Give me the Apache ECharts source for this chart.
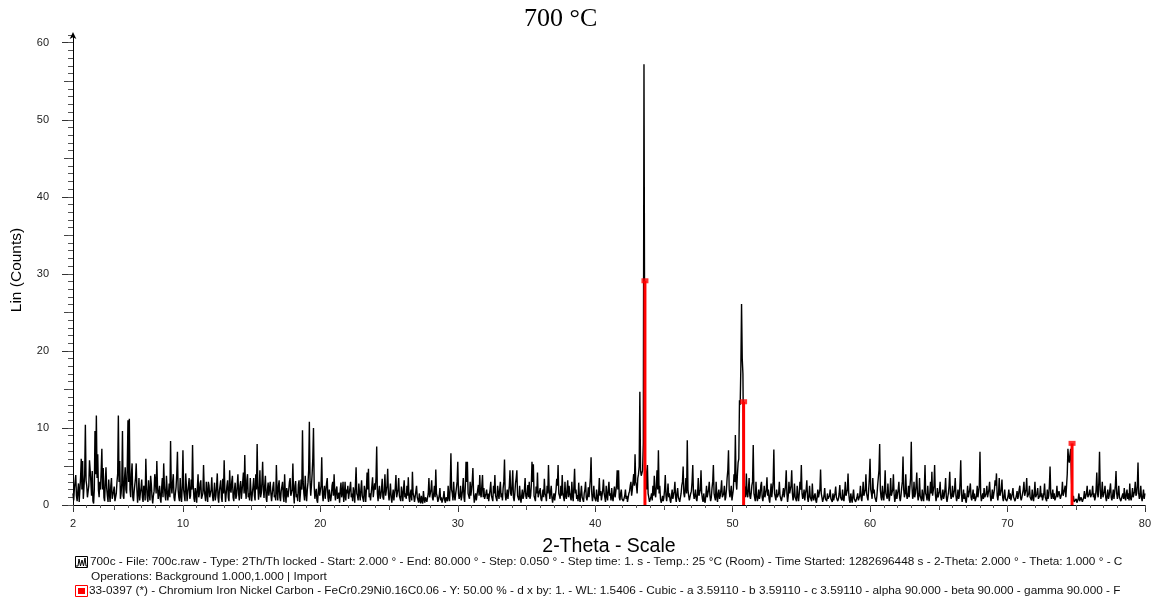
<!DOCTYPE html>
<html>
<head>
<meta charset="utf-8">
<title>700 °C</title>
<script src="https://cdn.jsdelivr.net/npm/echarts@6/dist/echarts.min.js"></script>
<style>
  html, body { margin: 0; padding: 0; background: #fff; }
  #chart { width: 1154px; height: 602px; }
</style>
</head>
<body>
<div id="chart"></div>
<script>
// scan: 2-Theta from 2 to 80, step 0.05 (one row = one degree)
const thetaStart = 2;
const thetaStep = 0.05;
const counts = [
  1.5,0.6, 2.2,3.0, 3.9,1.2, 0.5,1.8, 2.8,0.4, 0.3,3.5, 6.0,2.0, 5.7,0.8, 1.0,4.0, 10.4,3.2,
  2.5,1.0, 0.8,2.5, 5.8,4.5, 3.0,1.2, 4.4,0.5, 0.2,2.0, 9.6,4.0, 11.6,3.5, 6.6,2.0, 1.0,3.0,
  2.0,4.5, 7.3,2.0, 4.8,1.0, 0.5,3.0, 4.9,2.2, 1.2,0.4, 3.3,1.5, 0.4,2.5, 3.5,0.8, 1.0,1.8,
  2.4,0.5, 0.6,1.5, 3.0,4.0, 11.6,3.0, 5.7,0.8, 1.5,2.8, 9.6,1.2, 0.8,3.5, 4.9,2.0, 1.5,5.0,
  11.0,3.0, 11.2,2.0, 1.0,4.0, 5.4,1.0, 0.5,1.8, 2.0,3.5, 5.4,2.0, 0.3,1.5, 3.5,0.6, 1.5,2.2,
  3.3,1.0, 0.4,2.5, 2.1,0.6, 6.0,2.5, 1.0,0.4, 3.2,1.5, 0.6,3.8, 2.7,1.0, 0.2,1.2, 1.8,4.0,
  3.0,1.5, 5.7,2.4, 0.8,1.5, 2.5,0.8, 0.3,2.2, 3.5,1.0, 5.4,2.5, 1.2,0.6, 3.8,2.0, 0.6,1.5,
  2.8,1.0, 8.3,2.5, 1.5,3.0, 4.0,1.0, 0.5,1.5, 2.3,4.0, 6.9,2.0, 1.0,0.5, 3.5,1.2, 0.4,2.5,
  7.1,2.0, 1.2,0.5, 4.1,2.5, 0.5,1.6, 2.5,3.5, 0.8,1.2, 3.3,2.0, 7.8,2.5, 0.9,0.4, 2.2,1.5,
  0.3,2.2, 4.0,1.0, 1.5,2.8, 3.2,0.8, 0.6,1.5, 5.2,2.0, 2.0,0.5, 3.0,1.5, 0.4,3.0, 2.5,1.0,
  0.8,2.0, 3.6,1.2, 0.5,1.5, 2.9,0.6, 1.2,2.5, 4.1,1.0, 0.3,1.8, 2.0,3.2, 1.0,0.4, 3.4,1.5,
  5.8,2.0, 0.4,1.5, 2.5,3.2, 1.0,0.5, 4.5,2.0, 1.6,3.0, 3.8,1.0, 0.5,2.0, 2.9,0.8, 1.2,2.5,
  4.0,1.5, 0.6,2.5, 3.1,0.8, 1.8,3.0, 4.2,1.5, 6.5,2.0, 0.8,3.2, 4.0,1.0, 1.5,0.6, 3.5,1.8,
  0.5,1.5, 2.4,3.5, 1.2,0.6, 4.0,2.0, 7.9,2.5, 0.7,1.8, 4.5,1.0, 1.5,3.0, 5.6,2.0, 0.9,2.5,
  3.8,1.0, 0.4,2.0, 2.9,1.2, 1.0,3.0, 1.5,0.5, 0.3,2.4, 3.0,1.0, 1.3,0.6, 5.2,1.8, 0.6,2.5,
  3.2,1.0, 0.5,1.8, 2.0,3.0, 1.1,0.4, 4.0,1.5, 0.3,2.2, 2.4,1.0, 0.9,3.0, 3.5,1.2, 1.0,2.0,
  5.4,1.5, 0.2,2.5, 3.1,1.0, 1.4,0.5, 2.6,3.2, 0.4,1.5, 3.3,2.0, 9.7,3.0, 1.5,0.6, 3.8,1.5,
  0.5,2.0, 2.9,4.5, 10.8,3.0, 1.2,2.5, 4.0,6.0, 10.0,2.5, 0.8,1.5, 2.1,0.6, 0.3,1.8, 3.0,1.2,
  1.0,2.5, 6.2,1.5, 0.5,1.8, 2.5,0.8, 1.8,2.8, 3.5,1.0, 0.4,2.0, 2.2,0.5, 1.2,2.5, 3.0,1.2,
  4.0,1.5, 0.6,2.0, 2.4,0.8, 1.0,1.6, 0.3,2.0, 2.9,1.0, 1.5,3.0, 0.4,1.2, 3.0,0.6, 2.0,1.5,
  2.5,0.8, 1.0,2.2, 3.0,1.0, 1.5,0.5, 2.3,1.6, 0.3,2.5, 4.9,1.5, 1.2,0.6, 2.8,1.5, 0.6,2.0,
  3.2,1.2, 1.0,0.4, 2.5,1.8, 0.4,2.0, 4.2,2.0, 4.7,1.0, 1.5,0.6, 0.8,2.5, 3.6,1.0, 1.2,2.8,
  2.0,3.5, 7.6,1.5, 0.5,1.8, 2.5,0.8, 1.2,2.0, 3.4,1.0, 0.7,2.0, 4.0,1.2, 1.0,2.5, 4.7,1.5,
  0.6,1.5, 2.8,1.0, 0.3,1.2, 2.0,0.6, 1.5,2.2, 3.9,1.0, 0.8,2.0, 3.5,1.2, 1.0,0.5, 2.4,1.5,
  0.5,2.0, 3.2,1.0, 1.5,0.8, 2.5,1.2, 3.6,1.0, 0.4,1.5, 2.0,0.6, 4.3,1.5, 1.1,0.4, 0.6,1.8,
  2.5,1.0, 0.8,0.3, 1.5,0.6, 0.2,1.2, 0.5,0.2, 1.8,0.8, 0.3,1.0, 1.2,0.4, 0.4,1.5, 3.5,1.0,
  1.0,2.0, 3.2,1.0, 0.6,1.5, 2.5,1.0, 4.6,1.5, 1.1,0.4, 0.5,1.2, 2.2,0.6, 1.0,0.3, 0.4,1.0,
  1.8,0.6, 0.3,1.0, 1.2,0.5, 2.5,1.0, 0.5,2.5, 6.7,2.0, 1.5,0.6, 3.0,1.2, 0.6,1.5, 2.2,3.0,
  5.6,1.5, 0.8,1.2, 2.5,0.6, 1.2,2.0, 3.5,1.0, 0.4,2.5, 5.6,3.0, 5.6,1.5, 1.5,0.8, 3.0,1.2,
  2.0,3.0, 4.8,1.5, 0.3,1.0, 1.5,0.6, 0.8,2.0, 2.6,1.2, 3.9,1.5, 1.0,2.5, 3.9,1.0, 2.2,0.8,
  0.6,1.5, 2.0,0.8, 1.5,0.5, 0.4,2.0, 3.0,1.2, 1.0,0.5, 2.5,1.5, 3.9,1.2, 1.2,0.5, 2.5,1.5,
  0.8,2.0, 3.0,1.0, 1.5,0.6, 2.2,3.0, 5.9,1.5, 0.6,1.2, 2.0,0.8, 1.0,2.5, 4.5,1.5, 1.2,2.5,
  4.5,1.0, 0.5,1.5, 2.8,3.5, 4.5,1.2, 1.0,0.6, 2.5,1.0, 0.3,1.2, 2.0,0.8, 1.2,2.0, 3.5,1.2,
  0.8,1.5, 2.6,1.0, 3.0,0.8, 1.2,2.5, 5.6,3.0, 5.3,1.2, 1.0,0.5, 2.4,1.5, 4.2,1.0, 1.0,1.8,
  2.2,0.8, 0.5,1.2, 2.0,1.0, 3.4,1.5, 1.2,0.5, 2.5,1.5, 5.2,2.0, 0.8,1.6, 2.5,1.0, 0.3,1.0,
  1.5,0.6, 0.4,2.0, 3.4,2.5, 5.2,1.5, 1.2,0.8, 2.5,1.2, 3.9,1.5, 1.0,0.5, 3.0,1.2, 0.8,2.0,
  3.2,1.0, 2.5,1.5, 1.0,0.6, 3.0,1.2, 0.5,2.5, 4.7,1.5, 2.0,0.8, 1.3,0.5, 2.9,1.0, 0.4,1.5,
  2.5,1.0, 0.8,0.4, 1.5,2.0, 3.0,1.0, 0.6,1.2, 2.3,1.0, 1.0,3.5, 6.2,1.5, 0.5,1.2, 2.5,1.0,
  1.2,0.5, 2.0,1.0, 0.4,1.5, 3.5,1.2, 1.8,0.6, 0.8,2.0, 3.3,1.5, 1.0,0.4, 2.5,1.2, 0.6,2.0,
  3.0,1.2, 1.5,0.6, 2.2,1.0, 0.5,1.5, 2.4,1.0, 1.0,2.5, 4.5,2.0, 4.5,1.0, 0.6,1.5, 2.0,0.8,
  1.0,0.5, 0.4,1.2, 2.0,0.8, 1.2,0.4, 0.5,1.5, 1.8,2.5, 3.0,1.2, 2.0,3.0, 4.0,2.5, 6.6,3.0,
  2.5,1.5, 3.5,4.0, 5.0,14.7, 4.5,3.8, 4.0,4.5, 8.0,57.2, 20.0,5.0, 4.0,2.0, 5.2,1.5, 1.0,0.4,
  0.3,1.0, 1.5,0.6, 2.5,1.2, 3.8,1.5, 1.0,2.5, 4.5,2.0, 7.1,1.5, 2.5,0.8, 0.3,0.6, 1.2,0.5,
  1.0,2.0, 3.9,1.2, 0.5,1.5, 2.8,1.0, 1.5,0.6, 0.3,1.2, 2.0,0.8, 1.0,1.8, 3.0,1.0, 0.4,1.5,
  2.2,1.0, 1.0,0.4, 0.5,1.5, 2.5,3.0, 5.0,1.5, 1.0,2.0, 3.5,1.5, 8.4,2.0, 1.2,0.6, 0.6,1.5,
  1.8,3.0, 5.2,1.5, 0.8,1.2, 2.0,0.8, 0.5,1.5, 3.5,1.2, 1.0,2.0, 4.5,1.5, 0.8,0.4, 1.5,0.6,
  0.3,1.2, 2.5,1.0, 1.0,2.0, 3.0,1.2, 0.5,1.0, 2.2,3.0, 5.2,1.5, 1.0,0.6, 3.0,1.2, 0.4,1.5,
  2.0,0.8, 1.2,2.0, 3.2,1.0, 0.8,1.5, 2.5,0.6, 1.0,2.0, 3.5,4.5, 7.1,2.0, 1.0,1.5, 2.5,0.6,
  0.5,2.0, 4.0,3.0, 9.1,3.0, 2.0,4.0, 5.5,6.0, 13.6,13.0, 18.0,26.1, 19.0,17.0, 6.0,2.5, 2.0,1.0,
  4.1,1.5, 1.0,2.0, 3.5,1.2, 0.8,1.5, 2.5,3.0, 7.8,1.5, 1.0,0.5, 3.0,1.2, 0.5,1.0, 2.0,0.8,
  1.2,2.5, 3.0,1.0, 0.5,1.2, 2.5,1.0, 1.0,2.0, 3.6,1.2, 2.0,0.8, 0.3,1.5, 2.8,1.0, 1.0,3.0,
  7.2,1.5, 1.5,0.6, 2.0,1.0, 0.8,1.5, 3.0,1.2, 1.0,0.5, 0.5,1.5, 2.2,1.0, 1.0,2.5, 4.5,1.5,
  0.4,1.2, 3.0,1.5, 1.5,2.5, 4.5,1.5, 0.6,1.2, 2.8,1.0, 1.0,0.5, 2.5,1.2, 0.5,1.5, 3.0,2.0,
  5.2,1.5, 0.8,1.2, 2.0,0.6, 1.5,2.0, 3.2,1.0, 0.4,1.2, 2.5,1.0, 1.0,0.5, 2.8,1.0, 0.6,1.2,
  1.5,0.6, 0.3,1.0, 2.0,1.0, 0.8,2.0, 4.6,1.5, 1.0,0.4, 0.4,1.2, 2.2,0.8, 1.0,0.5, 1.5,0.8,
  0.6,1.2, 2.0,0.8, 1.0,0.4, 1.5,0.6, 0.5,1.5, 2.4,1.0, 1.2,0.5, 0.8,1.5, 2.6,1.0, 1.0,0.6,
  2.0,0.8, 0.5,1.5, 3.0,1.2, 1.0,2.0, 4.1,1.5, 0.6,0.3, 1.5,0.8, 0.3,1.2, 2.0,0.8, 1.0,0.4,
  0.4,1.0, 1.5,0.6, 0.8,1.2, 2.5,1.0, 0.5,1.5, 3.0,1.2, 1.2,2.0, 4.0,1.5, 1.0,0.6, 2.0,3.5,
  6.0,2.0, 1.5,0.8, 3.5,1.5, 2.0,1.0, 0.8,0.4, 1.2,2.5, 3.5,4.5, 7.9,2.0, 1.0,0.6, 2.5,1.2,
  0.6,2.0, 4.5,1.5, 1.5,0.8, 2.8,1.2, 0.5,1.5, 3.5,1.2, 1.0,2.0, 4.0,1.5, 0.4,1.0, 2.0,0.8,
  1.0,2.0, 3.0,1.0, 0.5,1.2, 2.2,3.0, 6.3,2.0, 1.0,1.5, 4.0,1.5, 0.8,1.2, 2.5,1.0, 1.2,3.5,
  8.2,2.5, 0.8,1.2, 3.0,1.0, 1.5,2.5, 4.2,1.5, 0.6,1.2, 3.5,1.2, 1.0,0.5, 2.0,1.0, 0.5,2.0,
  5.2,1.5, 1.2,0.6, 2.5,1.0, 0.5,1.5, 3.0,1.5, 4.3,1.2, 1.0,2.5, 5.2,1.5, 0.5,1.0, 2.2,1.0,
  1.0,1.8, 3.0,1.0, 0.6,1.2, 2.0,0.8, 1.2,2.0, 3.5,1.0, 0.4,1.0, 1.5,2.5, 4.3,1.5, 0.8,1.2,
  2.5,1.0, 1.0,2.0, 3.5,1.2, 0.5,1.0, 2.0,0.8, 1.2,3.0, 5.8,1.5, 0.4,1.0, 2.0,0.8, 1.5,0.6,
  0.3,1.2, 2.5,1.0, 1.0,2.0, 2.8,1.0, 0.6,1.2, 2.0,0.8, 1.5,0.5, 0.4,1.2, 2.5,1.0, 1.0,2.5,
  6.9,1.5, 0.5,1.0, 1.5,0.8, 2.2,1.0, 0.8,1.5, 2.5,1.0, 1.0,2.0, 3.0,1.2, 0.5,1.0, 2.0,0.8,
  1.0,2.0, 3.2,2.5, 4.1,1.2, 0.6,1.5, 3.5,1.2, 1.2,2.0, 3.3,1.0, 0.5,1.2, 2.0,0.8, 1.0,0.5,
  0.4,1.2, 2.0,0.8, 1.5,0.6, 0.8,1.5, 2.2,1.0, 1.0,0.5, 0.5,1.2, 1.8,0.8, 1.2,2.0, 2.5,1.0,
  0.6,1.0, 1.5,2.0, 3.0,1.2, 1.0,2.0, 3.5,1.0, 0.8,1.5, 2.5,1.0, 1.2,0.6, 2.0,1.0, 0.5,1.5,
  3.0,1.0, 1.0,1.5, 2.2,0.8, 0.6,1.2, 2.5,1.0, 1.5,0.6, 0.4,1.5, 2.8,1.0, 1.0,0.5, 2.0,0.8,
  1.2,2.5, 5.0,1.5, 0.8,1.2, 2.0,0.8, 1.5,0.6, 0.5,1.2, 2.5,1.0, 1.0,1.8, 2.0,0.8, 0.6,1.5,
  3.0,1.2, 1.0,2.0, 2.5,1.0, 0.8,4.0, 7.3,6.0, 5.5,6.5, 7.3,4.0, 1.0,0.5, 1.2,0.4, 0.3,0.6,
  0.8,0.3, 0.2,0.8, 1.5,0.5, 0.5,1.0, 1.0,0.4, 0.3,1.0, 1.8,0.8, 0.6,1.5, 2.5,1.0, 1.0,1.5,
  2.0,1.0, 0.8,1.5, 2.5,1.0, 1.5,0.6, 1.0,2.0, 4.2,1.5, 1.0,3.0, 6.9,2.0, 0.8,1.5, 3.0,1.0,
  1.0,1.8, 2.5,1.0, 0.5,1.2, 2.0,0.8, 1.2,2.0, 2.8,1.0, 0.6,1.2, 2.0,0.8, 1.0,2.5, 4.4,1.5,
  0.8,1.5, 2.5,1.0, 1.0,0.5, 0.4,1.2, 1.5,0.8, 2.2,1.0, 0.6,1.5, 2.0,0.8, 1.5,0.6, 2.8,1.0,
  0.6,1.2, 2.2,1.0, 1.0,1.8, 3.0,1.2, 1.5,2.5, 5.5,1.5, 0.8,1.2, 2.5,1.0, 0.5,1.2, 2.0,0.8,
  1.5
];

// reference card 33-0397 sticks (Y: 50 %)
const stickPos = [43.62, 50.80, 74.70];
const stickHeight = [29.1, 13.4, 8.0];

// axis ticks
const xLabelValues = [2, 10, 20, 30, 40, 50, 60, 70, 80];
const xMidTicks = [5, 15, 25, 35, 45, 55, 65, 75];
const xMinorTicks = [];
for (let v = 2; v <= 80; v++) xMinorTicks.push(v);
const yLabelValues = [0, 10, 20, 30, 40, 50, 60];
const yMidTicks = [5, 15, 25, 35, 45, 55];
const yMinorTicks = [];
for (let v = 0; v <= 61; v++) yMinorTicks.push(v);

const scanData = counts.map((c, i) => [+(thetaStart + i * thetaStep).toFixed(2), c]);
const stickData = stickPos.map((p, i) => [p, stickHeight[i]]);

const FONT = '"Liberation Sans", Arial, sans-serif';
const X_MIN = 2, X_MAX = 80, Y_MIN = 0, Y_MAX = 61;

const xBase = {
  type: 'value', min: X_MIN, max: X_MAX, position: 'bottom',
  splitLine: {show: false}
};
const yBase = {
  type: 'value', min: Y_MIN, max: Y_MAX, position: 'left',
  splitLine: {show: false}
};

let myChart = echarts.init(document.getElementById('chart'));

let option = {
  animation: false,
  backgroundColor: '#fff',
  grid: {left: 73, right: 8, top: 35, bottom: 97},
  xAxis: [
    Object.assign({}, xBase, {
      name: '2-Theta - Scale',
      nameLocation: 'middle',
      nameGap: 32,
      nameTextStyle: {fontFamily: FONT, fontSize: 19.5, color: '#000'},
      axisLine: {lineStyle: {color: '#000', width: 1}},
      axisTick: {length: 7, lineStyle: {color: '#333'}, customValues: xLabelValues},
      axisLabel: {customValues: xLabelValues, fontFamily: FONT, fontSize: 11, color: '#222', margin: 13}
    }),
    Object.assign({}, xBase, {
      axisLine: {show: false},
      axisTick: {length: 5, lineStyle: {color: '#444'}, customValues: xMidTicks},
      axisLabel: {show: false}
    }),
    Object.assign({}, xBase, {
      axisLine: {show: false},
      axisTick: {length: 3, lineStyle: {color: '#555'}, customValues: xMinorTicks},
      axisLabel: {show: false}
    })
  ],
  yAxis: [
    Object.assign({}, yBase, {
      name: 'Lin (Counts)',
      nameLocation: 'middle',
      nameGap: 48,
      nameTextStyle: {fontFamily: FONT, fontSize: 15.5, color: '#000'},
      axisLine: {
        lineStyle: {color: '#000', width: 1},
        symbol: ['none', 'arrow'], symbolSize: [5, 7], symbolOffset: [0, 3]
      },
      axisTick: {length: 11, lineStyle: {color: '#333'}, customValues: yLabelValues},
      axisLabel: {customValues: yLabelValues, fontFamily: FONT, fontSize: 11, color: '#222', margin: 24}
    }),
    Object.assign({}, yBase, {
      axisLine: {show: false},
      axisTick: {length: 9, lineStyle: {color: '#444'}, customValues: yMidTicks},
      axisLabel: {show: false}
    }),
    Object.assign({}, yBase, {
      axisLine: {show: false},
      axisTick: {length: 5, lineStyle: {color: '#555'}, customValues: yMinorTicks},
      axisLabel: {show: false}
    })
  ],
  series: [
    {
      name: '700c',
      type: 'line',
      xAxisIndex: 0,
      yAxisIndex: 0,
      data: scanData,
      showSymbol: false,
      symbol: 'none',
      sampling: null,
      lineStyle: {color: '#000', width: 1.4},
      z: 2
    },
    {
      name: '33-0397',
      type: 'bar',
      xAxisIndex: 0,
      yAxisIndex: 0,
      data: stickData,
      barWidth: 3,
      itemStyle: {color: '#ff0000'},
      z: 3
    },
    {
      name: '33-0397 top',
      type: 'scatter',
      xAxisIndex: 0,
      yAxisIndex: 0,
      data: stickData,
      symbol: 'rect',
      symbolSize: [7, 5],
      itemStyle: {color: '#ff0000'},
      z: 4
    }
  ],
  graphic: [
    {
      type: 'text', left: 524, top: 6,
      style: {text: '700 °C', font: '26px "Liberation Serif", "Times New Roman", serif', fill: '#000'}
    },
    // legend line 1: scan
    {
      type: 'rect', shape: {x: 75.5, y: 556.5, width: 12, height: 11},
      style: {fill: '#fff', stroke: '#000', lineWidth: 1}
    },
    {
      type: 'polyline',
      shape: {points: [[76, 566], [78, 566], [79, 559], [80.5, 566], [82, 560], [83.5, 566], [85, 558], [86, 566], [87.5, 566]]},
      style: {stroke: '#000', lineWidth: 1, fill: null}
    },
    {
      type: 'text', left: 90, top: 556,
      style: {
        text: '700c - File: 700c.raw - Type: 2Th/Th locked - Start: 2.000 ° - End: 80.000 ° - Step: 0.050 ° - Step time: 1. s - Temp.: 25 °C (Room) - Time Started: 1282696448 s - 2-Theta: 2.000 ° - Theta: 1.000 ° - C',
        font: '11.8px "Liberation Sans", Arial, sans-serif', fill: '#111'
      }
    },
    {
      type: 'text', left: 91, top: 571,
      style: {text: 'Operations: Background 1.000,1.000 | Import', font: '11.8px "Liberation Sans", Arial, sans-serif', fill: '#111'}
    },
    // legend line 3: reference card
    {
      type: 'rect', shape: {x: 75.5, y: 585.5, width: 12, height: 11},
      style: {fill: '#fff', stroke: '#ff0000', lineWidth: 1}
    },
    {
      type: 'rect', shape: {x: 78, y: 588, width: 7, height: 6},
      style: {fill: '#ff0000'}
    },
    {
      type: 'text', left: 89, top: 585,
      style: {
        text: '33-0397 (*) - Chromium Iron Nickel Carbon - FeCr0.29Ni0.16C0.06 - Y: 50.00 % - d x by: 1. - WL: 1.5406 - Cubic - a 3.59110 - b 3.59110 - c 3.59110 - alpha 90.000 - beta 90.000 - gamma 90.000 - F',
        font: '11.8px "Liberation Sans", Arial, sans-serif', fill: '#111'
      }
    }
  ]
};

myChart.setOption(option);
</script>
</body>
</html>
